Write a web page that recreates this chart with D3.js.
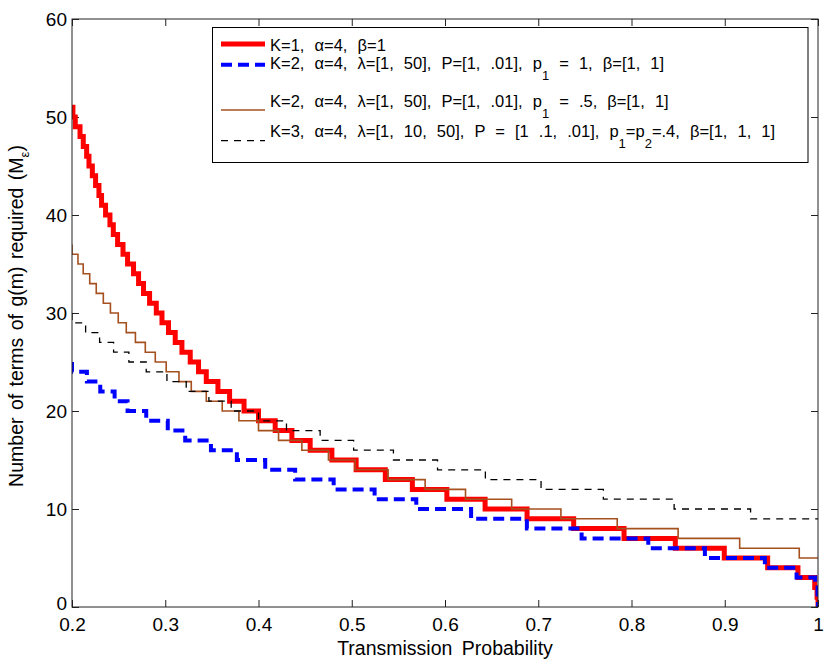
<!DOCTYPE html>
<html>
<head>
<meta charset="utf-8">
<script src="https://cdn.jsdelivr.net/npm/d3@7"></script>
<style>
  body { margin: 0; background: #fff; }
  text { font-family: "Liberation Sans", Arial, Helvetica, sans-serif; fill: #000; }
</style>
</head>
<body>
<script>
// step start positions (transmission probability) and the level held from there
const redX = [0.2, 0.201, 0.2035, 0.2086, 0.2121, 0.2157, 0.2182, 0.2218, 0.2253, 0.2289, 0.2317, 0.236,
  0.2407, 0.2443, 0.2489, 0.2547, 0.2596, 0.266, 0.2714, 0.2767, 0.2832, 0.2904, 0.2965, 0.3035, 0.3107,
  0.3179, 0.3268, 0.3357, 0.344, 0.3565, 0.369, 0.3845, 0.4, 0.4179, 0.4358, 0.4554, 0.4787, 0.5047, 0.536,
  0.565, 0.602, 0.643, 0.688, 0.738, 0.792, 0.847, 0.8995, 0.946, 0.9785, 0.9965, 0.999, 1.0];
const redY = [51, 50, 49, 48, 47, 46, 45, 44, 43, 42, 41, 40, 39, 38, 37, 36, 35, 34, 33, 32, 31, 30, 29, 28,
  27, 26, 25, 24, 23, 22, 21, 20, 19, 18, 17, 16, 15, 14, 13, 12, 11, 10, 9, 8, 7, 6, 5, 4, 3, 2, 1, 0];

const blueX = [0.2, 0.2, 0.216, 0.2303, 0.2457, 0.2596, 0.2796, 0.3027, 0.3214, 0.349, 0.3768, 0.4072, 0.4393,
  0.4806, 0.5245, 0.5692, 0.628, 0.6878, 0.7465, 0.818, 0.8787, 0.943, 0.977, 0.997, 0.9995, 1.0];
const blueY = [25, 24, 23, 22, 21, 20, 19, 18, 17, 16, 15, 14, 13, 12, 11, 10, 9, 8, 7, 6, 5, 4, 3, 2, 1, 0];

const brownX = [0.2, 0.2, 0.2064, 0.212, 0.219, 0.226, 0.2336, 0.2412, 0.2496, 0.2582, 0.268, 0.2786, 0.2893,
  0.301, 0.3147, 0.3279, 0.344, 0.3611, 0.379, 0.4, 0.4215, 0.4465, 0.475, 0.5036, 0.539, 0.5787, 0.622,
  0.6715, 0.7243, 0.7847, 0.85, 0.916, 0.9799, 1.0];
const brownY = [37, 36, 35, 34, 33, 32, 31, 30, 29, 28, 27, 26, 25, 24, 23, 22, 21, 20, 19, 18, 17, 16, 15,
  14, 13, 12, 11, 10, 9, 8, 7, 6, 5, 5];

const blackX = [0.2, 0.2, 0.2146, 0.2296, 0.2446, 0.261, 0.2796, 0.3018, 0.3225, 0.3468, 0.3707, 0.4, 0.43,
  0.4661, 0.502, 0.5447, 0.592, 0.6433, 0.703, 0.7698, 0.8457, 0.9277, 1.0];
const blackY = [30, 29, 28, 27, 26, 25, 24, 23, 22, 21, 20, 19, 18, 17, 16, 15, 14, 13, 12, 11, 10, 9, 9];

const xTicks = [0.2, 0.3, 0.4, 0.5, 0.6, 0.7, 0.8, 0.9, 1];
const yTicks = [0, 10, 20, 30, 40, 50, 60];

// legend text pieces: [text, isSubscript]
const legendLabels = [
  [["K=1, α=4, β=1", false]],
  [["K=2, α=4, λ=[1, 50], P=[1, .01], p", false], ["1", true], [" = 1, β=[1, 1]", false]],
  [["K=2, α=4, λ=[1, 50], P=[1, .01], p", false], ["1", true], [" = .5, β=[1, 1]", false]],
  [["K=3, α=4, λ=[1, 10, 50], P = [1 .1, .01], p", false], ["1", true], ["=p", false], ["2", true],
   ["=.4, β=[1, 1, 1]", false]]
];

const w = 830;
const h = 662;
const pl = 72, pr = 818, pt = 19, pb = 607;

const svg = d3.select("body").append("svg").attr("width", w).attr("height", h);

const x = d3.scaleLinear().domain([0.2, 1]).range([pl, pr]);
const y = d3.scaleLinear().domain([0, 60]).range([pb, pt]);

svg.append("defs").append("clipPath").attr("id", "plot")
  .append("rect").attr("x", pl).attr("y", pt)
  .attr("width", pr - pl).attr("height", pb - pt);

const series = [
  { xs: redX, ys: redY, color: "#ff0000", width: 5, dash: null },
  { xs: blueX, ys: blueY, color: "#0000ff", width: 4, dash: "11,6" },
  { xs: brownX, ys: brownY, color: "#a5501f", width: 1.6, dash: null },
  { xs: blackX, ys: blackY, color: "#000000", width: 1.3, dash: "7,6" }
];

const line = d3.line()
  .x((d) => x(d[0]))
  .y((d) => y(d[1]))
  .curve(d3.curveStepAfter);

const fmt = d3.format("~g");

// axes with inward ticks on all four sides
const axisStyle = (g) => {
  g.select(".domain").remove();
  g.selectAll(".tick line").attr("stroke", "#222");
  g.selectAll("text").style("font-size", "19px").attr("fill", "#000");
};

svg.append("g").attr("transform", `translate(0,${pb})`)
  .call(d3.axisBottom(x).tickValues(xTicks).tickFormat(fmt).tickSizeInner(-7).tickSizeOuter(0).tickPadding(11))
  .call(axisStyle);
svg.append("g").attr("transform", `translate(0,${pt})`)
  .call(d3.axisTop(x).tickValues(xTicks).tickFormat("").tickSizeInner(-7).tickSizeOuter(0))
  .call(axisStyle);
svg.append("g").attr("transform", `translate(${pl},0)`)
  .call(d3.axisLeft(y).tickValues(yTicks).tickFormat(fmt).tickSizeInner(-7).tickSizeOuter(0).tickPadding(5))
  .call(axisStyle)
  .selectAll(".tick text").filter((d) => d === 0).attr("dy", "0.12em");
svg.append("g").attr("transform", `translate(${pr},0)`)
  .call(d3.axisRight(y).tickValues(yTicks).tickFormat("").tickSizeInner(-7).tickSizeOuter(0))
  .call(axisStyle);

svg.append("g").attr("clip-path", "url(#plot)")
  .selectAll("path")
  .data(series)
  .enter()
  .append("path")
  .attr("d", (s) => line(s.xs.map((v, i) => [v, s.ys[i]])))
  .attr("fill", "none")
  .attr("stroke", (s) => s.color)
  .attr("stroke-width", (s) => s.width)
  .attr("stroke-dasharray", (s) => s.dash);

svg.append("rect")
  .attr("x", pl).attr("y", pt)
  .attr("width", pr - pl).attr("height", pb - pt)
  .attr("fill", "none").attr("stroke", "#222").attr("stroke-width", 1);

// axis labels
svg.append("text")
  .attr("x", (pl + pr) / 2).attr("y", 655)
  .attr("text-anchor", "middle")
  .style("font-size", "19.5px")
  .style("word-spacing", "4px")
  .text("Transmission Probability");

const yl = svg.append("text")
  .attr("transform", "rotate(-90)")
  .attr("x", -316).attr("y", 23)
  .attr("text-anchor", "middle")
  .style("font-size", "19.5px")
  .style("word-spacing", "2px");
yl.append("tspan").text("Number of terms of g(m) required (M");
yl.append("tspan").attr("dy", 6).style("font-size", "13px").text("ε");
yl.append("tspan").attr("dy", -6).text(")");

// legend
const lg = svg.append("g");
lg.append("rect")
  .attr("x", 212.5).attr("y", 27.5).attr("width", 595.5).attr("height", 135)
  .attr("fill", "#fff").attr("stroke", "#000").attr("stroke-width", 1);

const rowBase = [50.7, 69, 107.3, 137.3];
const rowLine = [44, 64.7, 110, 140.7];

legendLabels.forEach((parts, i) => {
  const s = series[i];
  lg.append("line")
    .attr("x1", 221).attr("x2", 265)
    .attr("y1", rowLine[i]).attr("y2", rowLine[i])
    .attr("stroke", s.color).attr("stroke-width", s.width)
    .attr("stroke-dasharray", s.dash);
  const t = lg.append("text").attr("x", 270).attr("y", rowBase[i])
    .style("font-size", "16.5px").style("word-spacing", "5.5px");
  let shifted = false;
  parts.forEach(([str, sub]) => {
    const sp = t.append("tspan").text(str);
    if (sub && !shifted) { sp.attr("dy", 11).style("font-size", "13px"); shifted = true; }
    else if (!sub && shifted) { sp.attr("dy", -11); shifted = false; }
  });
});
</script>
</body>
</html>
